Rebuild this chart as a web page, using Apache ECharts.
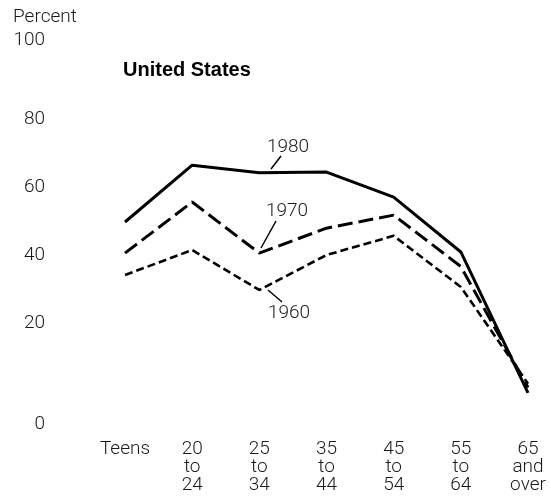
<!DOCTYPE html>
<html>
<head>
<meta charset="utf-8">
<script src="https://cdn.jsdelivr.net/npm/echarts@6/dist/echarts.min.js"></script>
<style>
  html, body { margin: 0; padding: 0; background: #fff; }
  #chart { width: 551px; height: 498px; }
</style>
</head>
<body>
<div id="chart"></div>
<script>
// age groups along the bottom
const ageGroups = ['Teens', '20\nto\n24', '25\nto\n34', '35\nto\n44', '45\nto\n54', '55\nto\n64', '65\nand\nover']

// percent
const y1960 = [38.8, 45.3, 34.9, 44.0, 49.0, 35.7, 10.5]
const y1970 = [44.5, 57.8, 44.5, 51.0, 54.4, 41.0, 9.5]
const y1980 = [52.6, 67.4, 65.4, 65.6, 59.1, 44.8, 8.1]

// the printed 20..80 labels sit a bit off the data scale, so they get their own label-only axis
const endTicks = [0, 100]
const midTicks = [20, 40, 60, 80]

const lightFont = 'Roboto, "Liberation Sans", sans-serif'
const textColor = '#1a1a1a'

const chart = echarts.init(document.getElementById('chart'))

const hiddenBits = {
  axisLine: { show: false },
  axisTick: { show: false },
  splitLine: { show: false }
}

const labelStyle = {
  margin: 80,
  fontFamily: lightFont,
  fontWeight: 300,
  fontSize: 19,
  color: textColor
}

const option = {
  animation: false,
  backgroundColor: '#fff',
  grid: {
    left: 125,
    right: 23,
    top: 40,
    bottom: 74
  },
  xAxis: {
    type: 'category',
    data: ageGroups,
    boundaryGap: false,
    ...hiddenBits,
    axisLabel: {
      margin: 16,
      fontFamily: lightFont,
      fontWeight: 300,
      fontSize: 19,
      lineHeight: 18,
      color: textColor,
      align: 'center'
    }
  },
  yAxis: [
    {
      type: 'value',
      min: 0,
      max: 100,
      interval: 20,
      ...hiddenBits,
      axisLabel: {
        ...labelStyle,
        formatter: v => endTicks.includes(v) ? String(v) : ''
      }
    },
    {
      // label-only axis, positioned to where the printed labels are
      type: 'value',
      position: 'left',
      min: -9.55,
      max: 103.23,
      ...hiddenBits,
      axisLabel: {
        ...labelStyle,
        customValues: midTicks
      }
    }
  ],
  series: [
    {
      name: '1960',
      type: 'line',
      data: y1960,
      symbol: 'none',
      lineStyle: { color: '#000', width: 2.6, type: [8, 4] }
    },
    {
      name: '1970',
      type: 'line',
      data: y1970,
      symbol: 'none',
      lineStyle: { color: '#000', width: 3, type: [15, 6] }
    },
    {
      name: '1980',
      type: 'line',
      data: y1980,
      symbol: 'none',
      lineStyle: { color: '#000', width: 3 }
    }
  ],
  graphic: [
    {
      type: 'text',
      left: 13,
      top: 8,
      style: { text: 'Percent', font: '300 19px ' + lightFont, fill: textColor }
    },
    {
      type: 'text',
      left: 123,
      top: 60,
      style: { text: 'United States', font: 'bold 20px "Liberation Sans", Arial, sans-serif', fill: '#000' }
    },
    // year labels with their leader lines
    {
      type: 'text',
      x: 288, y: 147,
      style: { text: '1980', font: '300 19px ' + lightFont, fill: textColor, align: 'center', verticalAlign: 'middle' }
    },
    {
      type: 'line',
      shape: { x1: 281, y1: 156, x2: 271, y2: 169 },
      style: { stroke: '#000', lineWidth: 1.5 }
    },
    {
      type: 'text',
      x: 287, y: 211,
      style: { text: '1970', font: '300 19px ' + lightFont, fill: textColor, align: 'center', verticalAlign: 'middle' }
    },
    {
      type: 'line',
      shape: { x1: 276, y1: 221, x2: 261, y2: 248 },
      style: { stroke: '#000', lineWidth: 1.5 }
    },
    {
      type: 'text',
      x: 289, y: 313,
      style: { text: '1960', font: '300 19px ' + lightFont, fill: textColor, align: 'center', verticalAlign: 'middle' }
    },
    {
      type: 'line',
      shape: { x1: 268, y1: 290, x2: 282, y2: 302 },
      style: { stroke: '#000', lineWidth: 1.5 }
    }
  ]
}

chart.setOption(option)
</script>
</body>
</html>
